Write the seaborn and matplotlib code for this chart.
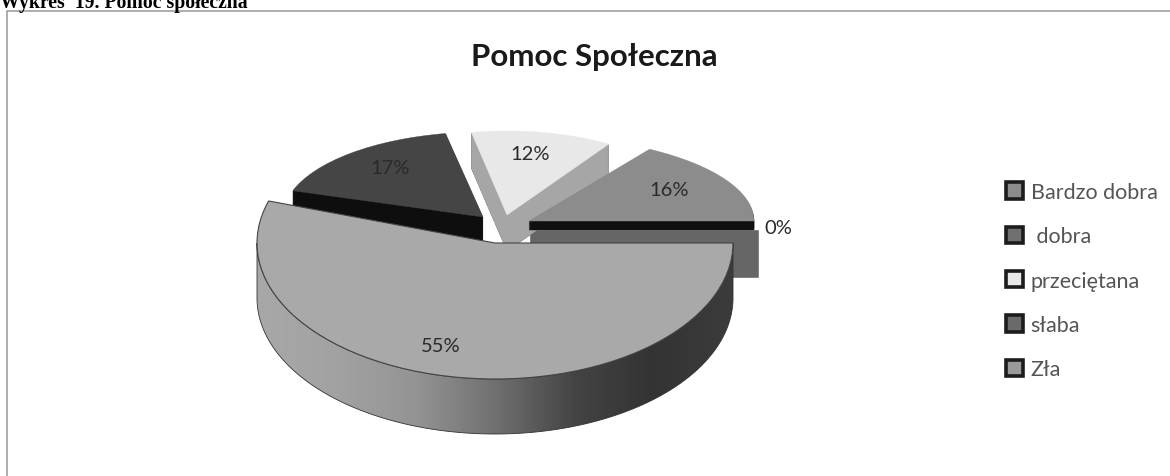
import numpy as np
import matplotlib
matplotlib.use("Agg")
import matplotlib.pyplot as plt
from matplotlib.patches import Patch, Polygon
from matplotlib.transforms import Affine2D
import seaborn as sns

categories = ["Bardzo dobra", " dobra", "przeciętana", "słaba", "Zła"]
values = [55, 17, 12, 16, 0]

# look of each slice: top face, side wall, second wall
top_colors = ["#a9a9a9", "#454545", "#e8e8e8", "#8c8c8c", "#777777"]
wall_colors = ["#909090", "#0e0e0e", "#5a5a5a", "#101010", "#666666"]
legend_faces = ["#8c8c8c", "#707070", "#e8e8e8", "#6a6a6a", "#9a9a9a"]

# centre x, centre y, rx, ry, depth in image pixels (y measured from the top)
layout = {
    0: (495, 244, 238, 136, 55),
    1: (483, 218, 200, 85, 50),
    2: (507, 216, 190, 84, 36),
    3: (529, 222, 225, 85, 9),
}
draw_order = [1, 2, 3, 0]
label_pos = [(441, 346), (390, 168), (530, 155), (669, 191), (778, 229)]

W, H = 1170, 477

sns.set_theme(style="white")
plt.rcParams["font.family"] = ["Lato", "DejaVu Sans"]

fig = plt.figure(figsize=(W / 100, H / 100), dpi=100)
ax = fig.add_axes([0, 0, 1, 1])


def draw_slice(i, cx, cy, rx, ry, color, z, edge=None, clip=None):
    wedges, _ = ax.pie(values, colors=[color] * len(values), startangle=0, counterclock=False)
    for j, w in enumerate(wedges):
        if j != i:
            w.remove()
    w = wedges[i]
    w.set_transform(Affine2D().scale(rx, ry).translate(cx, H - cy) + ax.transData)
    w.set_zorder(z)
    w.set_edgecolor(edge if edge else color)
    w.set_linewidth(0.8 if edge else 0.3)
    if clip is not None:
        w.set_clip_path(clip)
    return w


z = 1
for i in draw_order:
    cx, cy, rx, ry, depth = layout[i]
    if i == 0:
        # zero slice: its two cut faces show as one flat wall behind the big slice
        sx, sy, srx = layout[3][0], layout[3][1] + layout[3][4], layout[3][2] + 5
        ax.bar(sx, 49, width=srx, bottom=H - sy - 48, align="edge", color=wall_colors[4], zorder=z - 200)
        # big slice wall with a shade running left to right
        th = np.radians(np.linspace(-180, 0, 200))
        xs = cx + rx * np.cos(th)
        ys = H - cy + ry * np.sin(th)
        poly = np.vstack([np.c_[xs, ys], np.c_[xs[::-1], ys[::-1] - depth]])
        patch = Polygon(poly, closed=True, facecolor="none", edgecolor="#333333", linewidth=0.6, zorder=z + 1)
        ax.add_patch(patch)
        shade = sns.blend_palette(["#a8a8a8", "#a2a2a2", "#949494", "#707070", "#444444", "#333333", "#3c3c3c"], as_cmap=True)
        img = ax.imshow(np.linspace(0, 1, 256)[None, :], cmap=shade, aspect="auto", zorder=z,
                        extent=(cx - rx, cx + rx, H - cy - ry - depth, H - cy))
        img.set_clip_path(patch)
        z += 2
    else:
        for d in range(depth, 0, -1):
            draw_slice(i, cx, cy + d, rx, ry, wall_colors[i], z)
            z += 1
        if i == 2:
            # right cut face of this slice is lighter
            right = plt.Rectangle((cx, 0), W, H, transform=ax.transData)
            for d in range(depth, 0, -1):
                draw_slice(i, cx, cy + d, rx, ry, "#a6a6a6", z, clip=right)
                z += 1
    draw_slice(i, cx, cy, rx, ry, top_colors[i], z, edge="#444444" if i == 0 else None)
    z += 1

for v, (lx, ly) in zip(values, label_pos):
    ax.text(lx, H - ly, f"{v}%", ha="center", va="center", fontsize=14.5, color="#2a2a2a", zorder=z + 1)

ax.set(xlim=(0, W), ylim=(0, H), aspect="auto")
ax.set_axis_off()

# chart border and the page heading above it
ax.plot([7, 7, W], [0, H - 12, H - 12], color="#a0a0a0", lw=1.2, zorder=z)
ax.text(0, H - 8, "Wykres  19. Pomoc społeczna", family="Liberation Serif", fontweight="bold",
        fontsize=14.2, color="black", ha="left", va="baseline", zorder=z)
ax.text(594, H - 57, "Pomoc Społeczna", ha="center", va="center", fontsize=22.5, fontweight="bold",
        color="#1a1a1a", zorder=z)

handles = [Patch(facecolor=c, edgecolor="#1c1c1c", linewidth=2.6) for c in legend_faces]
ax.legend(handles, categories, loc="upper left", bbox_to_anchor=(1006 / W, 1 - 183 / H),
          frameon=False, fontsize=15.5, labelcolor="#555555", handlelength=0.8, handleheight=0.8,
          handletextpad=0.35, labelspacing=1.13, borderpad=0, borderaxespad=0)

fig.savefig("out.png", dpi=100)
